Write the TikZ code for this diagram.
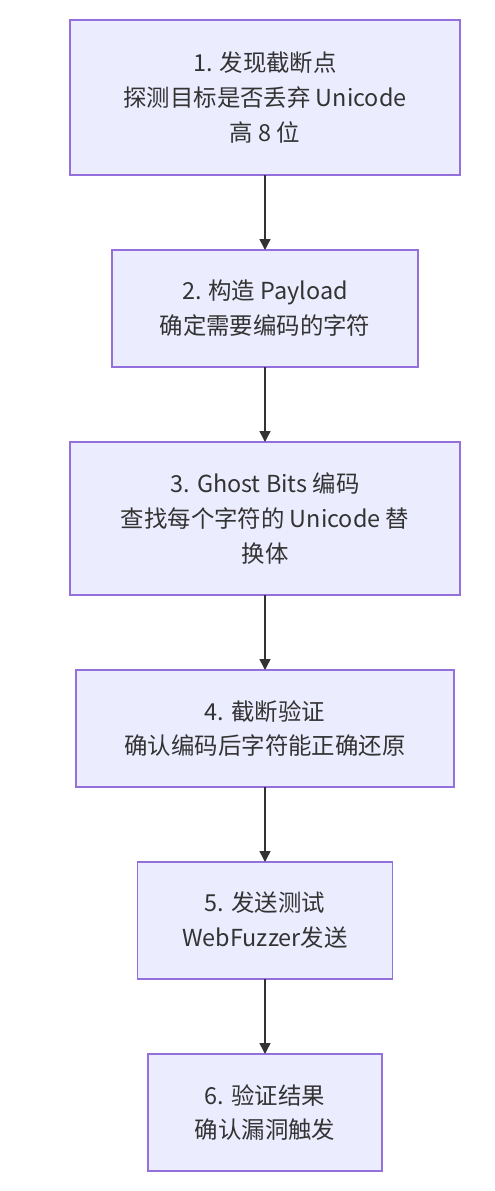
\documentclass[tikz,border=0pt]{standalone}
\usepackage{fontspec}
\setmainfont{Noto Sans CJK SC}
\usetikzlibrary{arrows.meta}
\definecolor{boxfill}{HTML}{ECECFF}
\definecolor{boxline}{HTML}{9370DB}
\definecolor{txt}{HTML}{333333}
\tikzset{
  box/.style={draw=boxline, fill=boxfill, line width=1.5pt, inner sep=0pt, outer sep=0pt,
    align=center, text=txt, font=\fontsize{23.5}{35}\selectfont},
  link/.style={draw=txt, line width=1.5pt, -{Triangle[length=11pt,width=11pt]}}
}
\begin{document}
\begin{tikzpicture}[x=1bp,y=-1bp]
\useasboundingbox (0,0) rectangle (495,1191);
\node[box, minimum width=390bp, minimum height=155bp] (n1) at (265,97.5)
  {1. 发现截断点\\探测目标是否丢弃 Unicode\\高 8 位};
\node[box, minimum width=306bp, minimum height=117bp] (n2) at (265,308.5)
  {2. 构造 Payload\\确定需要编码的字符};
\node[box, minimum width=390bp, minimum height=153bp] (n3) at (265,518.5)
  {3. Ghost Bits 编码\\查找每个字符的 Unicode 替\\换体};
\node[box, minimum width=378bp, minimum height=117bp] (n4) at (265,728.5)
  {4. 截断验证\\确认编码后字符能正确还原};
\node[box, minimum width=255bp, minimum height=117bp] (n5) at (265,920.5)
  {5. 发送测试\\WebFuzzer发送};
\node[box, minimum width=234bp, minimum height=117bp] (n6) at (265,1112.5)
  {6. 验证结果\\确认漏洞触发};
\draw[link] (n1) -- (n2);
\draw[link] (n2) -- (n3);
\draw[link] (n3) -- (n4);
\draw[link] (n4) -- (n5);
\draw[link] (n5) -- (n6);
\end{tikzpicture}
\end{document}
